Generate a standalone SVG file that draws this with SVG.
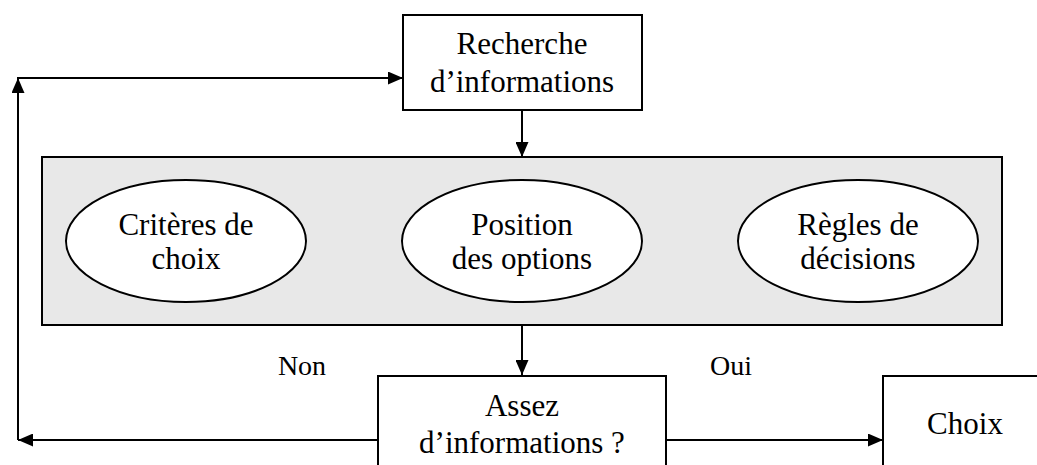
<svg xmlns="http://www.w3.org/2000/svg" width="1037" height="465" viewBox="0 0 1037 465">
<style>
.box{fill:#fff;stroke:#000;stroke-width:2}
.panel{fill:#e8e8e8;stroke:#000;stroke-width:2}
.ell{fill:#fff;stroke:#000;stroke-width:2}
.t{font-family:"Liberation Serif","Times New Roman",serif;font-size:31px;fill:#000;text-anchor:middle}
.lbl{font-family:"Liberation Serif","Times New Roman",serif;font-size:28px;fill:#000;text-anchor:middle}
.c{fill:none;stroke:#000;stroke-width:2}
</style>
<defs>
<marker id="ah" viewBox="0 0 15 13" refX="15" refY="6.5" markerWidth="15" markerHeight="13" markerUnits="userSpaceOnUse" orient="auto">
<path d="M0,0 L15,6.5 L0,13 Z" fill="#000"/>
</marker>
</defs>
<rect width="1037" height="465" fill="#fff"/>
<g id="connectors">
<path class="c" d="M522,110 V157" marker-end="url(#ah)"/>
<path class="c" d="M522,325 V375" marker-end="url(#ah)"/>
<path class="c" d="M378,440 H18" marker-end="url(#ah)"/>
<path class="c" d="M18,440 V78" marker-end="url(#ah)"/>
<path class="c" d="M17,78 H403" marker-end="url(#ah)"/>
<path class="c" d="M666,440 H883" marker-end="url(#ah)"/>
</g>
<g id="recherche">
<rect class="box" x="403" y="15" width="239" height="95"/>
<text class="t" x="522" y="54">Recherche</text>
<text class="t" x="522" y="92">d’informations</text>
</g>
<g id="panel">
<rect class="panel" x="42" y="157" width="960" height="168"/>
</g>
<g id="criteres">
<ellipse class="ell" cx="186" cy="241" rx="120" ry="61"/>
<text class="t" x="186" y="235">Critères de</text>
<text class="t" x="186" y="269">choix</text>
</g>
<g id="position">
<ellipse class="ell" cx="522" cy="241" rx="120" ry="61"/>
<text class="t" x="522" y="235">Position</text>
<text class="t" x="522" y="269">des options</text>
</g>
<g id="regles">
<ellipse class="ell" cx="858" cy="241" rx="120" ry="61"/>
<text class="t" x="858" y="235">Règles de</text>
<text class="t" x="858" y="269">décisions</text>
</g>
<g id="assez">
<rect class="box" x="378" y="376" width="288" height="100"/>
<text class="t" x="522" y="416">Assez</text>
<text class="t" x="522" y="453">d’informations ?</text>
</g>
<g id="choix">
<rect class="box" x="883" y="376" width="170" height="100"/>
<text class="t" x="965" y="434">Choix</text>
</g>
<g id="labels">
<text class="lbl" x="302" y="375">Non</text>
<text class="lbl" x="731" y="375">Oui</text>
</g>
</svg>
